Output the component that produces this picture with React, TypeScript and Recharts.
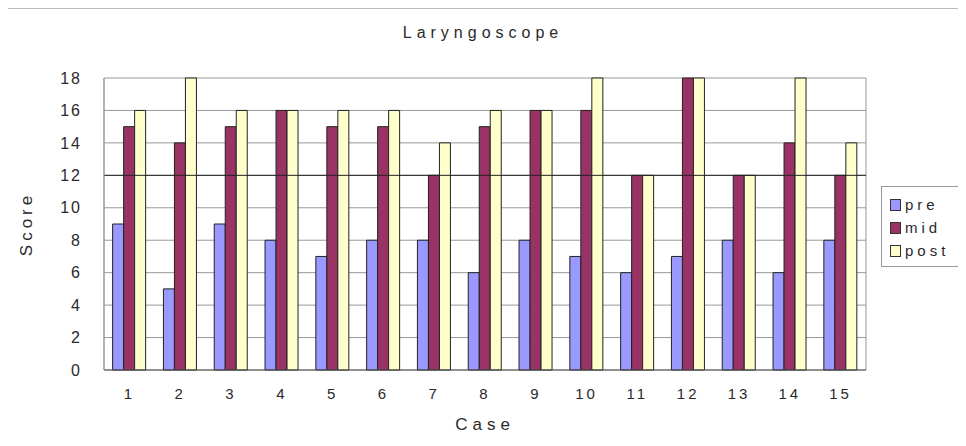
import { BarChart, Bar, XAxis, YAxis, CartesianGrid, Legend, ReferenceLine } from 'recharts';

const cases = ['1', '2', '3', '4', '5', '6', '7', '8', '9', '10', '11', '12', '13', '14', '15'];
const pre = [9, 5, 9, 8, 7, 8, 8, 6, 8, 7, 6, 7, 8, 6, 8];
const mid = [15, 14, 15, 16, 15, 15, 12, 15, 16, 16, 12, 18, 12, 14, 12];
const post = [16, 18, 16, 16, 16, 16, 14, 16, 16, 18, 12, 18, 12, 18, 14];
const seriesNames = ['pre', 'mid', 'post'];
const scoreTicks = [0, 2, 4, 6, 8, 10, 12, 14, 16, 18];

const data = cases.map((c, i) => ({ name: c, pre: pre[i], mid: mid[i], post: post[i] }));

const font = '"Liberation Sans", Arial, sans-serif';
const textColor = '#2a2a2a';

function LegendBox({ payload }: any) {
  const items = [...(payload || [])].sort(
    (a: any, b: any) => seriesNames.indexOf(a.value) - seriesNames.indexOf(b.value)
  );
  return (
    <div style={{ border: '1px solid #999', background: '#fff', padding: '6px 0 4px 8px', fontFamily: font }}>
      {items.map((p: any) => (
        <div key={p.value} style={{ display: 'flex', alignItems: 'center', height: 23 }}>
          <span style={{ display: 'inline-block', width: 9, height: 10, background: p.color, border: '1px solid #333', marginRight: 4 }} />
          <span style={{ fontSize: 15, letterSpacing: 4, color: textColor }}>{p.value}</span>
        </div>
      ))}
    </div>
  );
}

export default function App() {
  return (
    <div style={{ position: 'relative', width: 966, height: 446, margin: -8, background: '#fff', overflow: 'hidden' }}>
      <div style={{ position: 'absolute', left: 7, top: 8, width: 955, height: 432, border: '1px solid #bbb' }} />
      <div style={{ position: 'absolute', left: 0, width: 966, top: 24, textAlign: 'center', fontFamily: font, fontSize: 16, letterSpacing: 5, color: textColor }}>
        Laryngoscope
      </div>
      <div style={{ position: 'absolute', left: 0, top: 0 }}>
        <BarChart width={966} height={446} data={data} margin={{ top: 78, right: 100, bottom: 16, left: 0 }}
          barCategoryGap="17%" barGap={0}>
          <CartesianGrid stroke="#999" vertical={true}
            verticalCoordinatesGenerator={({ offset }: any) => [offset.left, offset.left + offset.width]} />
          <ReferenceLine y={12} stroke="#222" />
          <XAxis dataKey="name" height={60} tickLine={false} axisLine={{ stroke: '#555' }} tickSize={0} tickMargin={18}
            tick={{ fill: textColor, fontSize: 15, fontFamily: font, letterSpacing: 3 }}
            label={{ value: 'Case', position: 'insideBottom', offset: 0, fill: textColor, fontSize: 17, fontFamily: font, letterSpacing: 5 }} />
          <YAxis width={104} domain={[0, 18]} ticks={scoreTicks} tickLine={false} axisLine={{ stroke: '#999' }} tickSize={0} tickMargin={22}
            tick={{ fill: textColor, fontSize: 16, fontFamily: font, letterSpacing: 2 }}
            label={{ value: 'Score', angle: -90, position: 'insideLeft', offset: 26, fill: textColor, fontSize: 17, fontFamily: font, letterSpacing: 4, style: { textAnchor: 'middle' } }} />
          <Legend layout="vertical" align="center" verticalAlign="middle" content={<LegendBox />}
            wrapperStyle={{ left: 881, top: 186, width: 100 }} />
          <Bar dataKey="pre" name="pre" fill="#9999FF" stroke="#222" strokeWidth={1} isAnimationActive={false} />
          <Bar dataKey="mid" name="mid" fill="#993366" stroke="#222" strokeWidth={1} isAnimationActive={false} />
          <Bar dataKey="post" name="post" fill="#FFFFCC" stroke="#222" strokeWidth={1} isAnimationActive={false} />
        </BarChart>
      </div>
    </div>
  );
}
